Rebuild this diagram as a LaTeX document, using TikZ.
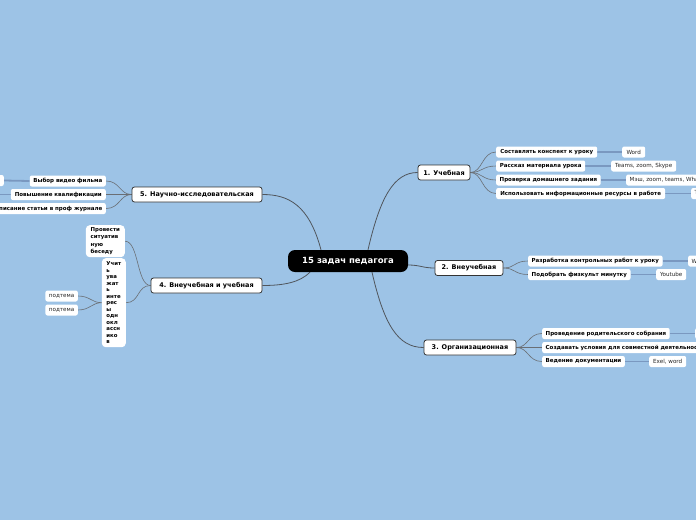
\documentclass[tikz,border=0pt]{standalone}
\usepackage{fontspec}
\newfontfamily\dv{DejaVu Sans}
\usetikzlibrary{calc,backgrounds}
\definecolor{bgc}{RGB}{157,195,230}
\definecolor{lnk}{RGB}{80,85,92}
\definecolor{leafln}{RGB}{122,152,192}
\begin{document}
\begin{tikzpicture}[x=1pt,y=-1pt,
 centre/.style={fill=black,text=white,rounded corners=7pt,font=\dv\bfseries\fontsize{8.5}{9.5}\selectfont,minimum width=120pt,minimum height=22pt,inner sep=0pt},
 topic/.style={fill=white,draw=black!80,line width=0.8pt,rounded corners=2.5pt,font=\dv\bfseries\fontsize{6.5}{7.5}\selectfont,minimum height=15pt,inner xsep=4pt,inner ysep=0pt},
 sub/.style={fill=white,rounded corners=2pt,font=\dv\bfseries\fontsize{5.5}{6.5}\selectfont,minimum height=11pt,inner xsep=3.5pt,inner ysep=0pt},
 leaf/.style={fill=white,rounded corners=2pt,font=\dv\fontsize{5.6}{6.6}\selectfont,text=black!85,minimum height=11pt,inner xsep=3.5pt,inner ysep=0pt},
 main/.style={draw=lnk,line width=0.8pt},
 br/.style={draw=lnk!85,line width=0.6pt},
 lf/.style={draw=leafln,line width=1.8pt},
]
\useasboundingbox (0,0) rectangle (696,520);

% centre and topics
\node[centre] (c) at (348,261) {15 задач педагога};
\node[topic, minimum width=52pt] (t1) at (444,172.5) {1. Учебная};
\node[topic, minimum width=68pt] (t2) at (469,268) {2. Внеучебная};
\node[topic, minimum width=92pt] (t3) at (470,347.5) {3. Организационная};
\node[topic, minimum width=130pt] (t5) at (197,194.5) {5. Научно-исследовательская};
\node[topic, minimum width=111pt] (t4) at (206.5,285.5) {4. Внеучебная и учебная};

% topic 1
\node[sub,anchor=west,minimum width=101pt] (s11) at (496,152) {Составлять конспект к уроку};
\node[sub,anchor=west,minimum width=89pt] (s12) at (496,166) {Рассказ материала урока};
\node[sub,anchor=west,minimum width=104pt] (s13) at (496,180) {Проверка домашнего задания};
\node[sub,anchor=west,minimum width=169pt] (s14) at (496,193.5) {Использовать информационные ресурсы в работе};
\node[leaf,anchor=west,minimum width=23pt] (l11) at (622,152) {Word};
\node[leaf,anchor=west,minimum width=65pt] (l12) at (611,166) {Teams, zoom, Skype};
\node[leaf,anchor=west] (l13) at (626,180) {Мэш, zoom, teams, WhatsApp};
\node[leaf,anchor=west] (l14) at (691,193.5) {Телеграм};

% topic 2
\node[sub,anchor=west,minimum width=134pt] (s21) at (528,261) {Разработка контрольных работ к уроку};
\node[sub,anchor=west,minimum width=102pt] (s22) at (528,274.5) {Подобрать физкульт минутку};
\node[leaf,anchor=west] (l21) at (688,261) {Word};
\node[leaf,anchor=west,minimum width=30pt] (l22) at (656,274.5) {Youtube};

% topic 3
\node[sub,anchor=west,minimum width=127pt] (s31) at (542,333.5) {Проведение родительского собрания};
\node[sub,anchor=west] (s32) at (542,347.5) {Создавать условия для совместной деятельности};
\node[sub,anchor=west,minimum width=82pt] (s33) at (542,361.5) {Ведение документации};
\node[leaf,anchor=west] (l31) at (695,333.5) {Zoom};
\node[leaf,anchor=west,minimum width=37pt] (l33) at (649,361.5) {Exel, word};

% topic 5
\node[sub,anchor=east,minimum width=76pt] (s51) at (106,181) {Выбор видео фильма};
\node[sub,anchor=east,minimum width=95pt] (s52) at (106,194.5) {Повышение квалификации};
\node[sub,anchor=east] (s53) at (106,208.5) {Написание статьи в проф журнале};
\node[leaf,anchor=east] (l51) at (4,180.5) {Фильм};
\coordinate (l52) at (-5,194.5);

% topic 4
\node[sub,anchor=north east,align=left,rounded corners=4pt,minimum width=39pt,minimum height=31pt,inner ysep=2.5pt,font=\dv\bfseries\fontsize{5.4}{7.3}\selectfont] (s41) at (125,225) {Провести\\ситуатив\\ную\\беседу};
\node[sub,anchor=north east,align=left,rounded corners=4pt,minimum width=24pt,minimum height=89pt,inner xsep=3.5pt,inner ysep=2.5pt,font=\dv\bfseries\fontsize{5.4}{6.5}\selectfont] (s42) at (126,258) {Учит\\ь\\ува\\жат\\ь\\инте\\рес\\ы\\одн\\окл\\ассн\\ико\\в};
\node[leaf,anchor=east,minimum width=32pt] (l41) at (78,296) {подтема};
\node[leaf,anchor=east,minimum width=32pt] (l42) at (78,310) {подтема};

\begin{scope}[on background layer]
\fill[bgc] (0,0) rectangle (696,520);
% centre connectors
\draw[main] ($(c.north)+(20,0)$) .. controls +(12,-52) and +(-24,0) .. (t1.west);
\draw[main] ($(c.east)+(0,4)$) .. controls +(12,0) and +(-12,0) .. (t2.west);
\draw[main] ($(c.south)+(24,0)$) .. controls +(12,52) and +(-26,0) .. (t3.west);
\draw[main] ($(c.north)+(-27,0)$) .. controls +(-12,-45) and +(26,0) .. (t5.east);
\draw[main] ($(c.south)+(-38,0)$) .. controls +(-10,10) and +(22,0) .. (t4.east);
% branches
\foreach \s in {s11,s12,s13,s14}{\draw[br] (t1.east) .. controls +(12,0) and +(-14,0) .. (\s.west);}
\foreach \s in {s21,s22}{\draw[br] (t2.east) .. controls +(12,0) and +(-14,0) .. (\s.west);}
\foreach \s in {s31,s32,s33}{\draw[br] (t3.east) .. controls +(12,0) and +(-14,0) .. (\s.west);}
\foreach \s in {s51,s52,s53}{\draw[br] (t5.west) .. controls +(-12,0) and +(14,0) .. (\s.east);}
\draw[br] (t4.west) .. controls +(-14,0) and +(14,0) .. (s41.east);
\draw[br] (t4.west) .. controls +(-14,0) and +(14,0) .. (s42.east);
\draw[br] (s42.west) .. controls +(-10,0) and +(12,0) .. (l41.east);
\draw[br] (s42.west) .. controls +(-10,0) and +(12,0) .. (l42.east);
% leaf links
\draw[lf] (s11.east) -- (l11.west);
\draw[lf] (s12.east) -- (l12.west);
\draw[lf] (s13.east) -- (l13.west);
\draw[lf] (s14.east) -- (l14.west);
\draw[lf] (s21.east) -- (l21.west);
\draw[lf] (s22.east) -- (l22.west);
\draw[lf] (s31.east) -- (l31.west);
\draw[lf] (s33.east) -- (l33.west);
\draw[lf] (s51.west) -- (l51.east);
\draw[lf] (s52.west) -- (l52);
\end{scope}
\end{tikzpicture}
\end{document}
